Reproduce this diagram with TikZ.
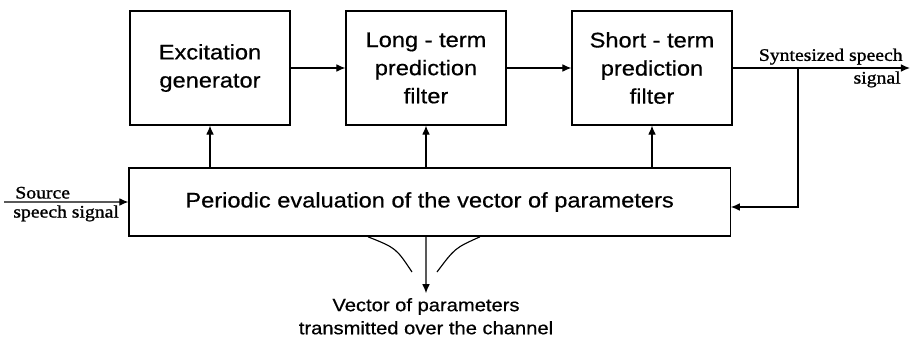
\documentclass[tikz,border=0pt]{standalone}
\usepackage{fontspec}
\setmainfont{Liberation Sans}[FakeStretch=1.12, FakeBold=0.6]
\newfontfamily\sigfont{Liberation Serif}[FakeStretch=1.12, FakeBold=1.2]
\usetikzlibrary{arrows.meta}
\begin{document}
\begin{tikzpicture}[
    node distance=5.4cm,
    block/.style={rectangle, draw, line width=0.8pt, align=center, minimum width=4cm, minimum height=2.85cm, font=\fontsize{15}{20}\selectfont},
    evalblock/.style={rectangle, draw, line width=0.8pt, minimum width=15.03cm, minimum height=1.7cm, font=\fontsize{15}{20}\selectfont},
    sig/.style={font=\sigfont\fontsize{12.5}{15}\selectfont, inner sep=2pt},
    arrow/.style={line width=0.8pt,-{Latex[length=6.5pt,width=5.5pt]}}
]
    \useasboundingbox (0,0) rectangle (22.775,-8.625);
    % Filters
    \node [block] at (5.25,-1.7) (excit) {Excitation\\generator};
    \node [block, right of=excit] (longterm) {Long - term\\prediction\\filter};
    \node [block, right of=longterm, xshift=0.25cm] (shortterm) {Short - term\\prediction\\filter};

    % Parameter evaluation
    \node [evalblock, below of=longterm, node distance=3.35cm, xshift=0.09cm] (periodic) {Periodic evaluation of the vector of parameters};

    % Signal ends
    \coordinate (src) at (0.1,-5.05);
    \coordinate (out) at (22.75,-1.7);
    \coordinate (fb) at (19.95,-1.7);
    \coordinate (chan) at (10.65,-7.33);

    % Connections
    \draw [arrow] (excit) -- (longterm);
    \draw [arrow] (longterm) -- (shortterm);
    \draw [arrow] (shortterm) -- (out)
        node [sig, pos=1, above left, xshift=-0.1cm] {Syntesized speech}
        node [sig, pos=1, below left, xshift=-0.15cm] {signal};
    \draw [arrow] (src) -- (periodic)
        node [sig, pos=0, above right, xshift=0.2cm] {Source}
        node [sig, pos=0, below right, xshift=0.15cm] {speech signal};
    \draw [arrow] (fb) |- ([yshift=-1.25mm]periodic.east);
    \draw [arrow] (periodic.north -| excit) -- (excit);
    \draw [arrow] (periodic.north -| longterm) -- (longterm);
    \draw [arrow] (periodic.north -| shortterm) -- (shortterm);

    % Channel
    \draw [arrow] (periodic.south -| longterm) -- (chan);
    \draw [line width=0.8pt] (9.2,-5.92) .. controls (9.9,-6.2) .. (10.3,-6.8);
    \draw [line width=0.8pt] (12.0,-5.92) .. controls (11.375,-6.2) .. (10.925,-6.8);
    \node [anchor=north, align=center, font=\fontsize{12.8}{16.4}\selectfont] at (chan) (vec) {Vector of parameters\\transmitted over the channel};
\end{tikzpicture}
\end{document}
